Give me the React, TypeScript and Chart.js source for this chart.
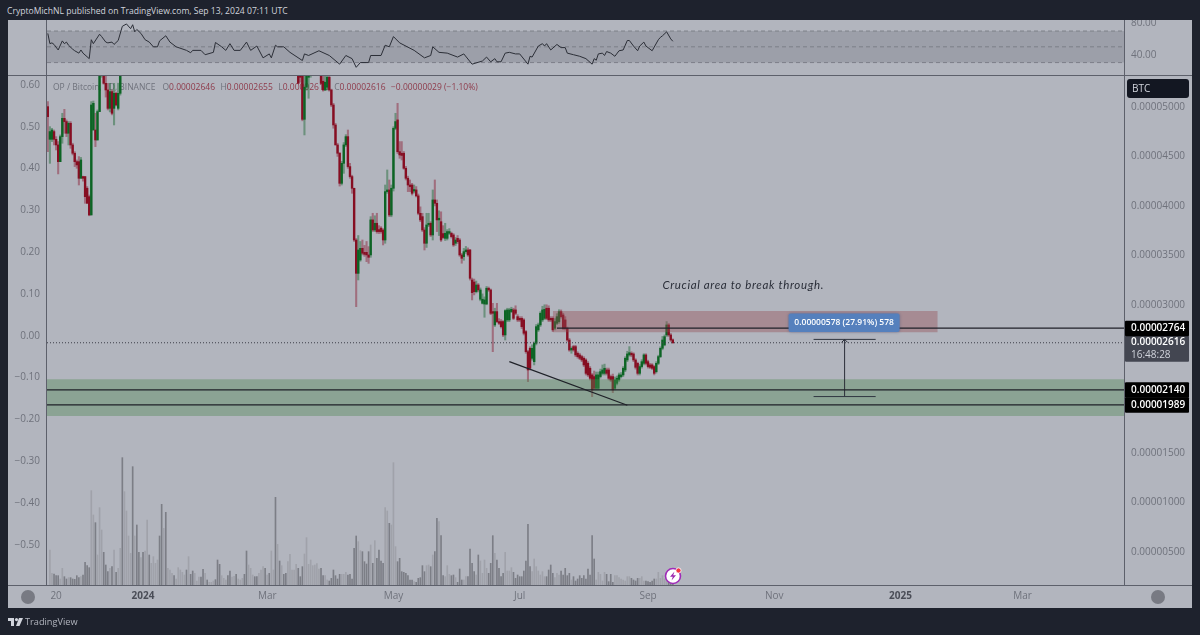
import { useEffect, useRef } from 'react'
import { Chart, registerables } from 'chart.js'

Chart.register(...registerables)

// prices are kept in units of 0.00000001 BTC, x values are days from 2024-01-01
const headerText = 'CryptoMichNL published on TradingView.com, Sep 13, 2024 07:11 UTC'
const noteText = 'Crucial area to break through.'
const measureText = '0.00000578 (27.91%) 578'

const xTickDays = [-42, 0, 60, 121, 182, 244, 305, 366, 425]
const xTickLabels = ['20', '2024', 'Mar', 'May', 'Jul', 'Sep', 'Nov', '2025', 'Mar']
const priceTicks = [5000, 4500, 4000, 3500, 3000, 1500, 1000, 500]
const percentTicks = [0.6, 0.5, 0.4, 0.3, 0.2, 0.1, 0, -0.1, -0.2, -0.3, -0.4, -0.5]
const rsiTicks = [80, 40]
const rsiGuides = [70, 50, 30]

const earlyStartDay = -46
// open, high, low, close
const earlyCandles = [
  [5003, 5054, 4548, 4902], [4673, 4801, 4430, 4751], [4673, 4784, 4650, 4767], [4751, 4767, 4616, 4673],
  [4673, 4700, 4565, 4616], [4616, 4650, 4323, 4447], [4447, 4717, 4447, 4700], [4700, 4936, 4633, 4885],
  [4885, 4976, 4734, 4852], [4852, 4869, 4700, 4734], [4734, 4852, 4616, 4835], [4835, 4852, 4582, 4616],
  [4616, 4633, 4515, 4532], [4532, 4548, 4397, 4447], [4447, 4464, 4380, 4414], [4447, 4498, 4211, 4279],
  [4279, 4490, 4279, 4464], [4296, 4300, 4250, 4279], [4296, 4296, 4026, 4093], [4178, 4195, 4026, 4026],
  [4093, 4110, 3900, 3908], [3908, 5054, 3908, 5020], [4767, 5060, 4767, 5037], [4767, 4936, 4599, 4666],
  [4666, 4970, 4666, 4953], [4953, 5500, 4953, 5323], [5330, 5500, 5300, 5450], [5400, 5450, 5230, 5239],
  [5239, 5330, 5100, 5172], [5172, 5239, 4970, 4986], [4986, 5239, 4950, 5155], [5155, 5172, 4920, 4936],
  [4986, 5239, 4818, 5138], [5138, 5150, 5010, 5020], [4986, 5240, 4970, 5138], [5138, 5500, 5120, 5323],
]

const lateStartDay = 75
const lateCandles = [
  [5400, 5500, 5239, 5239], [5500, 5550, 5250, 5300], [5400, 5500, 4860, 4875], [4875, 5400, 4717, 5200],
  [5200, 5500, 5170, 5380], [5300, 5550, 5088, 5450], [5400, 5600, 5300, 5500], null, null, null, null,
  [5400, 5500, 5230, 5239], [5260, 5400, 5160, 5172], [5172, 5350, 5165, 5250], [5200, 5400, 5172, 5300],
  [5300, 5350, 5160, 5172], [5172, 5180, 5003, 5020], [5020, 5037, 4785, 4818], [4818, 4835, 4616, 4616],
  [4616, 4633, 4500, 4532], [4532, 4540, 4200, 4228], [4228, 4450, 4211, 4430], [4430, 4640, 4329, 4616],
  [4616, 4720, 4600, 4700], [4700, 4767, 4380, 4397], [4397, 4430, 4279, 4296], [4296, 4310, 4127, 4178],
  [4178, 4178, 3640, 3655], [3655, 3670, 2981, 3318], [3318, 3700, 3251, 3554], [3453, 3640, 3440, 3571],
  [3571, 3655, 3504, 3521], [3530, 3600, 3490, 3510], [3530, 3640, 3436, 3504], [3504, 3588, 3419, 3480],
  [3504, 3891, 3480, 3858], [3858, 3925, 3740, 3756], [3756, 3900, 3740, 3824], [3824, 3925, 3723, 3740],
  [3760, 3800, 3720, 3740], [3775, 3790, 3723, 3740], [3756, 3770, 3605, 3655], [3655, 4211, 3622, 4144],
  [4144, 4363, 4127, 4161], [4161, 4262, 3891, 3908], [3908, 4211, 3890, 4178], [4178, 4800, 4150, 4784],
  [4784, 4936, 4770, 4852], [4869, 5037, 4530, 4548], [4548, 4650, 4481, 4515], [4532, 4650, 4464, 4510],
  [4532, 4550, 4370, 4380], [4380, 4400, 4262, 4279], [4279, 4300, 4144, 4211], [4211, 4262, 4144, 4195],
  [4211, 4228, 4110, 4127], [4150, 4211, 4130, 4165], [4161, 4195, 4090, 4101], [4101, 4120, 3910, 3925],
  [3925, 3990, 3840, 3858], [3891, 3925, 3740, 3756], [3756, 3780, 3554, 3622], [3622, 3925, 3580, 3807],
  [3807, 3925, 3790, 3824], [3824, 3840, 3690, 3706], [3706, 4161, 3655, 4060], [4060, 4262, 4000, 4026],
  [4026, 4060, 3740, 3858], [3858, 3950, 3700, 3875], [3840, 3940, 3640, 3655], [3720, 3800, 3670, 3680],
  [3672, 3824, 3650, 3723], [3672, 3760, 3655, 3740], [3723, 3770, 3710, 3740], [3723, 3735, 3675, 3689],
  [3706, 3720, 3590, 3605], [3622, 3680, 3600, 3655], [3672, 3700, 3620, 3638], [3655, 3670, 3490, 3504],
  [3504, 3520, 3420, 3470], [3487, 3570, 3450, 3537], [3537, 3590, 3520, 3554], [3554, 3575, 3490, 3504],
  [3554, 3560, 3250, 3268], [3251, 3270, 3049, 3123], [3230, 3260, 3100, 3133], [3133, 3240, 3120, 3200],
  [3200, 3215, 3130, 3150], [3056, 3170, 3040, 3150], [3015, 3110, 3008, 3056], [3008, 3080, 2874, 3049],
  [3008, 3185, 3000, 3167], [3167, 3180, 3135, 3150], [3150, 3160, 2900, 2914], [2931, 3015, 2526, 2914],
  [2796, 2965, 2780, 2931], [2931, 3015, 2820, 2830], [2830, 2860, 2800, 2813], [2830, 2850, 2765, 2779],
  [2830, 2840, 2678, 2695], [2695, 2950, 2644, 2941], [2847, 2965, 2830, 2948], [2847, 2965, 2830, 2948],
  [2931, 2975, 2920, 2954], [2948, 2965, 2850, 2863], [2948, 2990, 2900, 2914], [2880, 2900, 2830, 2847],
  [2863, 2880, 2830, 2847], [2863, 2880, 2760, 2779], [2847, 2860, 2695, 2712], [2729, 2740, 2510, 2526],
  [2526, 2540, 2223, 2341], [2560, 2575, 2341, 2358], [2459, 2595, 2440, 2560], [2425, 2625, 2392, 2611],
  [2611, 2800, 2594, 2779], [2746, 2815, 2730, 2796], [2796, 2930, 2780, 2914], [2847, 2985, 2830, 2948],
  [2863, 3000, 2850, 2954], [2965, 3000, 2850, 2863], [2965, 2990, 2830, 2847], [2863, 2880, 2830, 2847],
  [2863, 2880, 2729, 2746], [2762, 2860, 2746, 2830], [2813, 2910, 2800, 2880], [2830, 2950, 2813, 2931],
  [2931, 2948, 2865, 2880], [2897, 2915, 2750, 2762], [2847, 2880, 2746, 2762], [2762, 2775, 2630, 2644],
  [2644, 2660, 2530, 2543], [2543, 2575, 2510, 2560], [2577, 2590, 2530, 2543], [2577, 2590, 2476, 2493],
  [2510, 2525, 2460, 2476], [2493, 2510, 2445, 2459], [2476, 2490, 2425, 2442], [2459, 2475, 2375, 2392],
  [2442, 2455, 2290, 2307], [2408, 2425, 2275, 2291], [2358, 2375, 2240, 2257], [2291, 2305, 2071, 2139],
  [2274, 2330, 2140, 2156], [2156, 2320, 2139, 2291], [2156, 2320, 2139, 2291], [2274, 2350, 2260, 2324],
  [2307, 2392, 2290, 2341], [2307, 2400, 2290, 2358], [2341, 2360, 2290, 2307], [2341, 2360, 2240, 2257],
  [2274, 2290, 2225, 2240], [2274, 2300, 2112, 2139], [2156, 2270, 2140, 2240], [2206, 2280, 2190, 2257],
  [2240, 2310, 2225, 2291], [2274, 2315, 2260, 2291], [2291, 2375, 2275, 2358], [2341, 2475, 2324, 2459],
  [2442, 2530, 2425, 2503], [2493, 2577, 2480, 2516], [2510, 2525, 2475, 2493], [2503, 2515, 2425, 2442],
  [2442, 2455, 2350, 2368], [2408, 2420, 2290, 2307], [2307, 2395, 2290, 2375], [2375, 2445, 2360, 2425],
  [2408, 2505, 2392, 2493], [2493, 2505, 2392, 2408], [2425, 2440, 2360, 2375], [2392, 2408, 2355, 2368],
  [2392, 2405, 2345, 2358], [2375, 2385, 2291, 2307], [2324, 2425, 2310, 2408], [2408, 2490, 2395, 2476],
  [2476, 2575, 2465, 2560], [2560, 2680, 2545, 2644], [2594, 2695, 2585, 2678], [2695, 2830, 2680, 2796],
  [2796, 2810, 2680, 2695], [2695, 2710, 2630, 2644], [2646, 2655, 2610, 2616],
]

// volume columns, read as a relative height
const volumeEarlyStart = -45
const volumesEarly = [
  105, 35, 33, 28, 28, 18, 50, 25, 18, 22, 22, 18, 17, 28, 22, 25, 30, 68, 58, 52, 283, 210, 187, 90, 232, 165, 98, 60,
  40, 50, 55, 105, 38, 50, 110, 382, 280, 222, 147, 95, 355, 147, 180, 98, 82, 98, 102, 195, 90, 65, 85, 65, 75, 147,
  242, 170, 218, 50, 45, 35, 28, 18, 52, 45, 38, 30, 45, 85, 32, 42, 35, 12, 24, 24, 47, 35, 15, 8, 8, 12, 16, 75, 62,
  28, 20, 15, 28, 42, 24, 26, 32, 18, 15, 20, 32, 102, 60, 50, 30, 25, 25, 35, 45, 55, 50, 30, 35, 102, 45, 263, 122,
  72, 58, 32, 35, 70, 92, 45, 45, 62, 50, 25, 55, 93, 142, 62, 75, 58, 60, 64, 48, 50, 28, 28, 15, 12, 20, 45, 28, 18,
  32, 32, 32, 38, 30, 32, 18, 110, 147, 130, 103, 100, 70, 63, 100, 120, 65, 133, 80, 105, 72, 65, 232, 222, 185, 180,
  367, 115, 70, 80,
]
const volumeLateStart = 125
const volumesLate = [
  40, 38, 35, 28, 15, 15, 10, 8, 20, 22, 58, 40, 58, 60, 55, 90, 100, 200, 190, 148, 28, 25, 58, 32, 28, 30, 22, 8, 48,
  15, 15, 25, 25, 108, 65, 40, 30, 90, 72, 35, 75, 50, 35, 65, 148, 95, 75, 50, 25, 35, 98, 42, 42, 52, 38, 20, 30, 25,
  25, 42, 72, 182, 55, 40, 78, 55, 42, 30, 40, 25, 25, 45, 60, 35, 22, 35, 30, 42, 30, 50, 28, 35, 15, 25, 12, 18, 28,
  20, 28, 18, 48, 30, 148, 78, 15, 38, 32, 12, 38, 32, 10, 32, 8, 28, 28, 22, 18, 15, 12, 25, 25, 20, 15, 12, 20, 20,
  25, 12, 12, 10, 8, 12, 18, 18, 38, 20, 28, 18, 25, 15, 10, 5,
]
// days whose candle sits above the visible range but whose volume column is dark
const darkVolumeDays = [
  -10, -5, -3, -2, 0, 3, 8, 9, 11, 15, 21, 23, 24, 28, 29, 31, 35, 36, 37, 41, 42, 45, 49, 50, 54, 55, 59, 61, 64, 66,
  68, 69,
]

// day, RSI
const rsiPoints = [
  [-46, 67], [-45, 54], [-44, 55], [-43, 53], [-41, 46], [-39, 57.5], [-38, 54], [-37, 56], [-36, 52], [-34, 47],
  [-33, 45], [-31, 42], [-30, 46], [-29, 42], [-26, 35], [-25, 59], [-24, 54], [-21, 66], [-20, 63], [-18, 56],
  [-17, 55], [-15, 56], [-14, 53], [-12, 58], [-10, 76], [-8, 79], [-6, 73], [-5, 78], [-4, 69], [-3, 72], [-1, 67],
  [1, 59], [3, 56], [5, 50], [7, 50], [8, 57.5], [11, 64], [13, 56], [16, 50], [21, 45.5], [23, 42.5], [24, 45.5],
  [28, 45.5], [30, 40], [34, 43], [35, 55.5], [38, 50], [40, 45.5], [42, 54], [44, 45.5], [47, 45.5], [50, 56],
  [52, 45.5], [55, 51], [58, 36], [61, 41], [62, 36], [64, 52], [65, 50], [68, 50], [71, 43], [77, 32.6], [78, 41],
  [80, 39], [85, 45], [90, 39], [95, 28], [98, 39], [101, 35], [103, 24], [105, 30], [109, 30], [110, 39], [115, 39],
  [117, 52], [119, 50], [121, 63], [124, 55], [131, 45.5], [136, 36], [139, 39], [140, 50], [143, 43], [147, 42],
  [152, 37], [155, 41], [159, 28], [164, 32], [166, 37], [168, 31], [170, 35], [171, 31], [173, 31], [175, 42],
  [177, 43], [180, 41], [182, 41], [186, 28], [187, 38], [188, 37], [191, 51], [193, 54], [194, 51], [195, 54],
  [197, 46], [200, 53], [202, 49], [204, 49], [205, 42], [208, 40], [211, 38], [214, 35], [217, 28], [218, 35],
  [219, 33], [220, 41], [222, 42], [223, 39], [224, 44], [226, 42], [228, 38], [230, 45], [232, 46], [234, 58],
  [235, 58], [237, 51], [239, 45], [240, 51], [242, 56], [243, 51], [246, 45], [249, 59], [250, 62], [251, 64],
  [253, 69], [255, 60], [256, 57],
]

// drawings on the price panel
const resistanceZone = { fromDay: 198, toDay: 384, top: 2938, bottom: 2723 }
const supportZone = { top: 2247, bottom: 1875 }
const resistanceLevel = 2764
const resistanceFromDay = 200
const supportLevels = [2140, 1989]
const lastPrice = 2616
const trendDays = [177, 234]
const trendPrices = [2425, 1984]
const measureDay = 339
const measureCapDays = [324, 354]
const measurePrices = [2072, 2650]
const noteAnchor = { day: 290, price: 3200 }
const countdown = '16:48:28'
const legendParts: [string, string, number][] = [
  ['OP / Bitcoin, 1D, BINANCE', '#6f727c', 0],
  ['O', '#6f727c', 7],
  ['0.00002646', '#8e3a4a', 0],
  ['H', '#6f727c', 5.5],
  ['0.00002655', '#8e3a4a', 0],
  ['L', '#6f727c', 5.5],
  ['0.00002616', '#8e3a4a', 0],
  ['C', '#6f727c', 5.5],
  ['0.00002616', '#8e3a4a', 0],
  ['\u22120.00000029 (\u22121.10%)', '#8e3a4a', 5.5],
]

const priceRange = { min: 167, max: 5313 }
const percentRange = { min: -0.596, max: 0.6215 }
const rsiRange = { min: 13, max: 84 }
const dayRange = { min: -46.4, max: 474 }
const volumeMax = 1527

const GREEN = '#0c6424'
const RED = '#860e22'
const GREEN_WICK = 'rgba(38,110,60,0.5)'
const RED_WICK = 'rgba(142,40,62,0.5)'
const FRAME = '#5d606b'
const AXIS_TEXT = '#6f727c'
const FONT = '"Open Sans", sans-serif'

const formatPrice = (v: number) => (v * 1e-8).toFixed(8)

type Candle = { day: number; o: number; h: number; l: number; c: number }

const toCandles = (rows: (number[] | null)[], start: number): Candle[] =>
  rows.flatMap((row, i) => (row ? [{ day: start + i, o: row[0], h: row[1], l: row[2], c: row[3] }] : []))

const candles = [...toCandles(earlyCandles, earlyStartDay), ...toCandles(lateCandles, lateStartDay)]
const candleByDay = new Map(candles.map(c => [c.day, c]))

const volumePoints = [
  ...volumesEarly.map((y, i) => ({ x: volumeEarlyStart + i, y })),
  ...volumesLate.map((y, i) => ({ x: volumeLateStart + i, y })),
]

const isDarkVolume = (day: number) => {
  const candle = candleByDay.get(day)
  return candle ? candle.c < candle.o : darkVolumeDays.includes(day)
}

const fitWidth = (width: number) => (scale: any) => {
  scale.width = width
  scale.paddingTop = 0
  scale.paddingBottom = 0
}

const horizontal = (y: number, fromDay = dayRange.min, toDay = dayRange.max) => [
  { x: fromDay, y },
  { x: toDay, y },
]

const lineSet = (data: { x: number; y: number }[], color: string, extra: object = {}) => ({
  type: 'line' as const,
  data,
  borderColor: color,
  borderWidth: 1,
  pointRadius: 0,
  yAxisID: 'price',
  order: 1,
  ...extra,
})

const roundedBox = (ctx: CanvasRenderingContext2D, x: number, y: number, w: number, h: number, r: number, fill: string) => {
  ctx.fillStyle = fill
  ctx.beginPath()
  ctx.roundRect(x, y, w, h, r)
  ctx.fill()
}

// the text line above the candles
const legendPlugin = {
  id: 'legendLine',
  beforeDatasetsDraw(chart: any) {
    const { ctx } = chart
    ctx.save()
    ctx.font = `8.5px ${FONT}`
    ctx.textBaseline = 'middle'
    let x = chart.chartArea.left + 6
    legendParts.forEach(([text, color, gap]) => {
      x += gap
      ctx.fillStyle = color
      ctx.fillText(text, x, 11.5)
      x += ctx.measureText(text).width
    })
    ctx.restore()
  },
}

// arrow head, note, measure label and the price tags on the right axis
const overlayPlugin = {
  id: 'overlay',
  afterDatasetsDraw(chart: any) {
    const { ctx, scales } = chart
    const xAt = (d: number) => scales.x.getPixelForValue(d)
    const yAt = (p: number) => scales.price.getPixelForValue(p)
    ctx.save()

    // arrow head
    const tipX = xAt(measureDay)
    const tipY = yAt(measurePrices[1])
    ctx.strokeStyle = '#2a2e39'
    ctx.lineWidth = 1
    ctx.beginPath()
    ctx.moveTo(tipX - 3, tipY + 3)
    ctx.lineTo(tipX, tipY)
    ctx.lineTo(tipX + 3, tipY + 3)
    ctx.stroke()

    // note
    ctx.fillStyle = '#2a2e39'
    ctx.font = `italic 11.5px Lato, ${FONT}`
    ctx.textAlign = 'center'
    ctx.textBaseline = 'middle'
    ;(ctx as any).letterSpacing = '0.65px'
    ctx.fillText(noteText, xAt(noteAnchor.day), yAt(noteAnchor.price))
    ;(ctx as any).letterSpacing = '0px'

    // measure label
    const labelY = yAt(measurePrices[1]) - 26
    ctx.shadowColor = 'rgba(40,60,110,0.45)'
    ctx.shadowBlur = 3
    roundedBox(ctx, tipX - 56, labelY, 111, 18.5, 2, '#5580bd')
    ctx.shadowBlur = 0
    ctx.fillStyle = '#ffffff'
    ctx.font = `600 8.5px ${FONT}`
    ctx.fillText(measureText, tipX - 0.5, labelY + 9.5)
    ctx.restore()
  },
  afterDraw(chart: any) {
    const { ctx, scales, chartArea, width } = chart
    const yAt = (p: number) => scales.price.getPixelForValue(p)
    ctx.save()

    ctx.strokeStyle = FRAME
    ctx.lineWidth = 1
    ctx.beginPath()
    ctx.moveTo(0, chartArea.bottom + 0.5)
    ctx.lineTo(width, chartArea.bottom + 0.5)
    ctx.moveTo(chartArea.left - 0.5, chartArea.top)
    ctx.lineTo(chartArea.left - 0.5, chartArea.bottom)
    ctx.moveTo(chartArea.right + 0.5, chartArea.top)
    ctx.lineTo(chartArea.right + 0.5, chartArea.bottom)
    ctx.stroke()

    const tagX = chartArea.right + 1
    const tagW = 64
    const textX = chartArea.right + 7
    ctx.textBaseline = 'middle'

    // currency box
    roundedBox(ctx, chartArea.right + 3, 3, 62, 19, 3, '#131722')
    ctx.fillStyle = '#d1d4dc'
    ctx.font = `10px ${FONT}`
    ctx.fillText('BTC', textX + 1, 13)

    ctx.font = `600 10px ${FONT}`
    const last = yAt(lastPrice)
    roundedBox(ctx, tagX, last - 7, tagW, 26, 1, '#434651')
    ctx.fillStyle = '#ffffff'
    ctx.fillText(formatPrice(lastPrice), textX, last - 0.5)
    ctx.fillStyle = '#d1d4dc'
    ctx.font = `10px ${FONT}`
    ctx.fillText(countdown, textX, last + 12)

    ctx.font = `600 10px ${FONT}`
    ;[resistanceLevel, ...supportLevels].forEach(level => {
      const y = yAt(level)
      roundedBox(ctx, tagX, y - 7.5, tagW, 15.5, 1, '#000000')
      ctx.fillStyle = '#ffffff'
      ctx.fillText(formatPrice(level), textX, y + 0.5)
    })
    ctx.restore()
  },
}

const rsiFramePlugin = {
  id: 'rsiFrame',
  afterDraw(chart: any) {
    const { ctx, chartArea, width } = chart
    ctx.save()
    ctx.strokeStyle = FRAME
    ctx.lineWidth = 1
    ctx.beginPath()
    ctx.moveTo(0, chartArea.bottom - 0.5)
    ctx.lineTo(width, chartArea.bottom - 0.5)
    ctx.moveTo(chartArea.left - 0.5, chartArea.top)
    ctx.lineTo(chartArea.left - 0.5, chartArea.bottom)
    ctx.moveTo(chartArea.right + 0.5, chartArea.top)
    ctx.lineTo(chartArea.right + 0.5, chartArea.bottom)
    ctx.stroke()
    ctx.restore()
  },
}

const noGrid = { display: false, drawTicks: false }

const dayAxis = (axisHeight: number): any => ({
  type: 'linear',
  position: 'bottom',
  offset: false,
  min: dayRange.min,
  max: dayRange.max,
  display: axisHeight > 0,
  grid: noGrid,
  border: { display: false },
  afterBuildTicks: (scale: any) => {
    scale.ticks = xTickDays.map(value => ({ value }))
  },
  afterFit: (scale: any) => {
    scale.height = axisHeight
    scale.paddingLeft = 0
    scale.paddingRight = 0
  },
  ticks: {
    autoSkip: false,
    maxRotation: 0,
    padding: 5,
    callback: (value: number) => xTickLabels[xTickDays.indexOf(value)],
    font: (ctx: any) => ({
      family: FONT,
      size: 10,
      weight: /^\d{4}$/.test(String(ctx.tick?.label)) ? 'bold' : 'normal',
    }),
    color: (ctx: any) => (/^\d{4}$/.test(String(ctx.tick?.label)) ? '#4a4d57' : AXIS_TEXT),
  },
})

function PriceChart() {
  const canvasRef = useRef<HTMLCanvasElement>(null)

  useEffect(() => {
    if (!canvasRef.current) return
    const chart = new Chart(canvasRef.current, {
      type: 'bar',
      data: {
        datasets: [
          {
            data: volumePoints,
            backgroundColor: volumePoints.map(p => (isDarkVolume(p.x) ? '#7c7e86' : '#a0a2aa')),
            barThickness: 1,
            grouped: false,
            yAxisID: 'volume',
            order: 6,
          },
          {
            data: candles.map(c => ({ x: c.day, y: [c.l, c.h] })),
            backgroundColor: candles.map(c => (c.c >= c.o ? GREEN_WICK : RED_WICK)),
            barThickness: 1.4,
            grouped: false,
            yAxisID: 'price',
            order: 5,
          },
          {
            data: candles.map(c => ({ x: c.day, y: [c.o, c.c] })),
            backgroundColor: candles.map(c => (c.c >= c.o ? GREEN : RED)),
            barThickness: 1.7,
            grouped: false,
            yAxisID: 'price',
            order: 4,
          },
          lineSet(horizontal(resistanceZone.top, resistanceZone.fromDay, resistanceZone.toDay), 'transparent', {
            fill: { value: resistanceZone.bottom },
            backgroundColor: 'rgba(148,78,82,0.4)',
            order: 3,
          }),
          lineSet(horizontal(supportZone.top), 'transparent', {
            fill: { value: supportZone.bottom },
            backgroundColor: 'rgba(80,138,85,0.4)',
            order: 3,
          }),
          lineSet(horizontal(lastPrice), '#3c3f48', { borderDash: [1, 2] }),
          lineSet(horizontal(resistanceLevel, resistanceFromDay), '#1f2128', { borderWidth: 1.2 }),
          ...supportLevels.map(level => lineSet(horizontal(level), '#1f2128', { borderWidth: 1.2 })),
          lineSet(trendDays.map((x, i) => ({ x, y: trendPrices[i] })), '#1f2128', { borderWidth: 1.2 }),
          ...measurePrices.map(p => lineSet(horizontal(p, measureCapDays[0], measureCapDays[1]), '#2f3640')),
          lineSet(measurePrices.map(y => ({ x: measureDay, y })), '#2a2e39'),
        ] as any,
      },
      options: {
        animation: false,
        responsive: false,
        layout: { padding: 0 },
        plugins: { legend: { display: false }, tooltip: { enabled: false } },
        scales: {
          x: dayAxis(22),
          percent: {
            type: 'linear',
            position: 'left',
            min: percentRange.min,
            max: percentRange.max,
            grid: noGrid,
            border: { display: false },
            afterBuildTicks: (scale: any) => {
              scale.ticks = percentTicks.map(value => ({ value }))
            },
            afterFit: fitWidth(39),
            ticks: {
              padding: 7,
              color: AXIS_TEXT,
              font: { family: FONT, size: 10 },
              callback: (v: number) => v.toFixed(2).replace('-', '\u2212'),
            },
          },
          price: {
            type: 'linear',
            position: 'right',
            min: priceRange.min,
            max: priceRange.max,
            grid: noGrid,
            border: { display: false },
            afterBuildTicks: (scale: any) => {
              scale.ticks = priceTicks.map(value => ({ value }))
            },
            afterFit: fitWidth(68),
            ticks: {
              padding: 7,
              color: AXIS_TEXT,
              font: { family: FONT, size: 10 },
              callback: (v: number) => formatPrice(v),
            },
          },
          volume: { type: 'linear', display: false, min: 0, max: volumeMax },
        },
      } as any,
      plugins: [legendPlugin, overlayPlugin],
    })
    return () => chart.destroy()
  }, [])

  return (
    <canvas
      ref={canvasRef}
      width={1184}
      height={531}
      style={{ position: 'absolute', left: 8, top: 76, width: 1184, height: 531 }}
    />
  )
}

function RsiChart() {
  const canvasRef = useRef<HTMLCanvasElement>(null)

  useEffect(() => {
    if (!canvasRef.current) return
    const chart = new Chart(canvasRef.current, {
      type: 'line',
      data: {
        datasets: [
          {
            data: rsiPoints.map(([x, y]) => ({ x, y })),
            borderColor: '#2b2e37',
            borderWidth: 1,
            pointRadius: 0,
            order: 1,
          },
          {
            data: horizontal(rsiGuides[0]),
            borderColor: '#7d8089',
            borderWidth: 1,
            borderDash: [4, 3],
            pointRadius: 0,
            fill: { value: rsiGuides[2] },
            backgroundColor: 'rgba(120,123,134,0.38)',
            order: 2,
          },
          ...rsiGuides.slice(1).map(level => ({
            data: horizontal(level),
            borderColor: '#7d8089',
            borderWidth: 1,
            borderDash: [4, 3],
            pointRadius: 0,
            order: 2,
          })),
        ] as any,
      },
      options: {
        animation: false,
        responsive: false,
        layout: { padding: { left: 39 } },
        plugins: { legend: { display: false }, tooltip: { enabled: false } },
        scales: {
          x: dayAxis(0),
          y: {
            type: 'linear',
            position: 'right',
            min: rsiRange.min,
            max: rsiRange.max,
            grid: noGrid,
            border: { display: false },
            afterBuildTicks: (scale: any) => {
              scale.ticks = rsiTicks.map(value => ({ value }))
            },
            afterFit: fitWidth(68),
            ticks: {
              padding: 7,
              color: AXIS_TEXT,
              font: { family: FONT, size: 10 },
              callback: (v: number) => v.toFixed(2),
            },
          },
        },
      } as any,
      plugins: [rsiFramePlugin],
    })
    return () => chart.destroy()
  }, [])

  return (
    <canvas
      ref={canvasRef}
      width={1184}
      height={56}
      style={{ position: 'absolute', left: 8, top: 20, width: 1184, height: 56 }}
    />
  )
}

function ScrollDot({ left }: { left: number }) {
  return (
    <div
      style={{
        position: 'absolute',
        left,
        top: 590,
        width: 14,
        height: 14,
        borderRadius: '50%',
        background: '#787a83',
      }}
    />
  )
}

export default function App() {
  useEffect(() => {
    document.body.style.margin = '0'
  }, [])

  return (
    <div style={{ position: 'relative', width: 1200, height: 635, background: '#1e222d', overflow: 'hidden', fontFamily: FONT }}>
      <div style={{ position: 'absolute', left: 7, top: 4, fontSize: 8.6, lineHeight: '14px', color: '#d1d4dc', whiteSpace: 'nowrap' }}>
        {headerText}
      </div>
      <div style={{ position: 'absolute', left: 8, top: 20, width: 1184, height: 588, background: '#b2b5be' }} />
      <RsiChart />
      <PriceChart />
      <ScrollDot left={21} />
      <ScrollDot left={1151} />
      <svg width={20} height={20} viewBox="0 0 20 20" style={{ position: 'absolute', left: 663, top: 566 }}>
        <circle cx={10} cy={10} r={7.5} fill="#ffffff" stroke="#a02bb8" strokeWidth={1.6} />
        <path d="M11.5 5.5 L7 10.8 H9.8 L8.5 14.5 L13 9.2 H10.2 Z" fill="#9c27b0" />
        <circle cx={15.5} cy={4.5} r={2.6} fill="#f23645" stroke="#ffffff" strokeWidth={0.8} />
      </svg>
      <svg width={15} height={8} viewBox="0 0 15 8" style={{ position: 'absolute', left: 8, top: 618 }}>
        <path d="M0 0 H6 V8 H3 V3 H0 Z M11 0 H15 L11.5 8 H8 Z" fill="#d1d4dc" />
        <circle cx={8.5} cy={1.6} r={1.6} fill="#d1d4dc" />
      </svg>
      <div style={{ position: 'absolute', left: 25, top: 615, fontSize: 9.2, lineHeight: '14px', color: '#b2b5be', whiteSpace: 'nowrap' }}>
        TradingView
      </div>
    </div>
  )
}
